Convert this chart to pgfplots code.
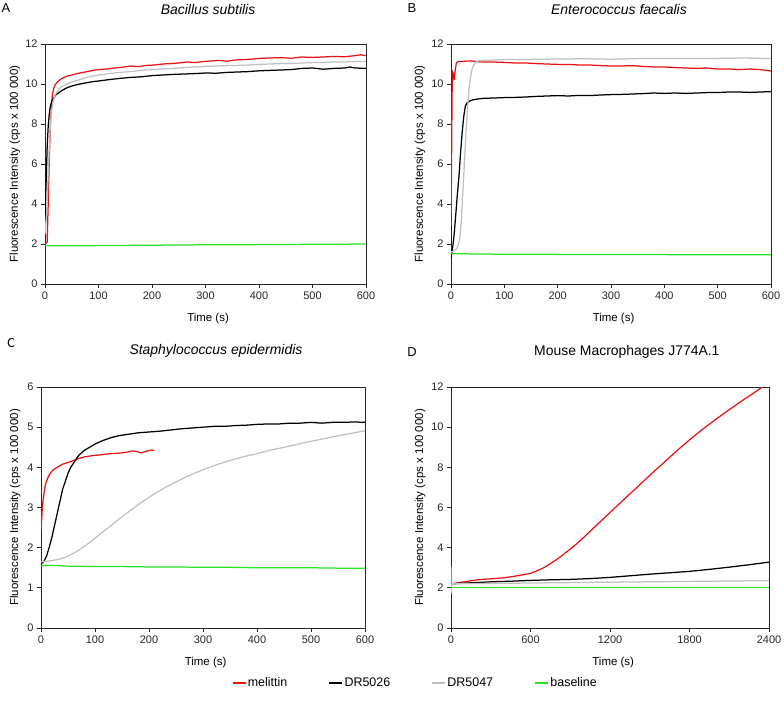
\documentclass[border=0pt]{standalone}
\usepackage{pgfplots}
\pgfplotsset{compat=1.18}
\usepackage{fontspec}
\setmainfont{Liberation Sans}
\newfontfamily\calibri{Carlito}

\definecolor{cred}{RGB}{232,20,20}
\definecolor{cblack}{RGB}{0,0,0}
\definecolor{cgray}{RGB}{192,192,192}
\definecolor{cgreen}{RGB}{40,225,40}

\pgfplotsset{
 panel/.style={
  scale only axis, anchor=south west,
  xmin=0, xmax=600, ymin=0, ymax=12,
  axis line style={black!85, line width=0.9bp},
  tick style={black!85, line width=0.8bp},
  major tick length=4bp, tick align=outside,
  xtick pos=left, ytick pos=left,
  tick label style={font=\fontsize{11}{13}\selectfont, text=black!85},
  /pgf/number format/assume math mode=true,
  /pgf/number format/1000 sep={},
  label style={font=\fontsize{11.5}{13}\selectfont},
  title style={font=\fontsize{14}{16}\selectfont\itshape, anchor=center},
  xlabel={Time (s)},
  ylabel={Fluorescence Intensity (cps x 100 000)},
  every axis plot/.append style={line width=1.25bp, no markers},
 },
}

\begin{document}
\begin{tikzpicture}
\useasboundingbox (0,0) rectangle (784bp,-704bp);

% ---------------- A ----------------
\begin{axis}[panel, at={(45bp,-284bp)}, width=321bp, height=240bp,
  title={Bacillus subtilis}, title style={at={(0.508,1.12)}},
  ylabel style={at={(axis description cs:-0.0935,0.5)}, anchor=center},
  xlabel style={at={(axis description cs:0.508,-0.142)}, anchor=center},
  ytick={0,2,...,12}, xtick={0,100,...,600}]
\addplot[cred] coordinates {(0,2.0) (2,2.05) (4,2.1) (6,4.0) (8,6.2) (10,7.9) (12,8.9) (14,9.5) (17,9.85) (20,10.0) (25,10.15) (30,10.25) (40,10.38) (50,10.45) (60,10.52) (75,10.6) (90,10.68) (100,10.72) (115,10.75) (130,10.8) (145,10.84) (160,10.9) (175,10.87) (190,10.93) (205,10.95) (220,11.0) (235,11.02) (250,11.05) (265,11.1) (280,11.07) (295,11.12) (310,11.15) (325,11.18) (340,11.14) (355,11.2) (370,11.22) (385,11.24) (400,11.28) (420,11.3) (440,11.32) (460,11.29) (480,11.35) (500,11.33) (520,11.35) (540,11.38) (560,11.36) (580,11.42) (590,11.46) (600,11.42)};
\addplot[cblack] coordinates {(0,3.2) (2,5.0) (4,6.8) (6,7.9) (8,8.5) (10,8.9) (13,9.15) (16,9.3) (20,9.45) (25,9.55) (30,9.65) (40,9.8) (50,9.9) (60,9.97) (75,10.05) (90,10.12) (100,10.15) (120,10.22) (140,10.28) (160,10.33) (180,10.36) (200,10.42) (220,10.45) (240,10.48) (260,10.5) (280,10.52) (300,10.55) (320,10.54) (340,10.58) (360,10.6) (380,10.62) (400,10.66) (420,10.68) (440,10.7) (460,10.72) (480,10.78) (500,10.8) (520,10.74) (540,10.78) (560,10.8) (570,10.85) (580,10.8) (600,10.78)};
\addplot[cgray] coordinates {(0,2.5) (3,3.5) (6,5.5) (9,7.5) (12,8.6) (15,9.1) (18,9.4) (22,9.6) (26,9.75) (30,9.85) (40,9.98) (50,10.1) (60,10.18) (75,10.3) (90,10.4) (100,10.45) (120,10.52) (140,10.58) (160,10.62) (180,10.68) (200,10.72) (220,10.75) (240,10.78) (260,10.82) (280,10.85) (300,10.88) (320,10.9) (340,10.92) (360,10.93) (380,10.95) (400,10.98) (420,11.0) (440,11.02) (460,11.02) (480,11.05) (500,11.07) (520,11.08) (540,11.1) (560,11.1) (580,11.13) (600,11.12)};
\addplot[cgreen] coordinates {(0,1.92) (50,1.91) (100,1.92) (150,1.93) (200,1.94) (250,1.95) (300,1.96) (350,1.96) (400,1.97) (450,1.97) (500,1.99) (550,1.99) (600,2.0)};
\end{axis}

% ---------------- B ----------------
\begin{axis}[panel, at={(451bp,-284bp)}, width=320bp, height=240bp,
  title={Enterococcus faecalis}, title style={at={(0.525,1.12)}},
  ylabel style={at={(axis description cs:-0.097,0.5)}, anchor=center},
  xlabel style={at={(axis description cs:0.508,-0.142)}, anchor=center},
  ytick={0,2,...,12}, xtick={0,100,...,600}]
\addplot[cred] coordinates {(0,2.9) (1,6) (2,9.5) (3,10.6) (5,10.5) (6,10.2) (8,10.7) (10,11.05) (13,11.12) (20,11.12) (30,11.15) (40,11.15) (50,11.12) (60,11.1) (80,11.1) (100,11.08) (120,11.05) (140,11.05) (160,11.02) (180,11.0) (200,10.98) (220,10.98) (240,10.95) (260,10.95) (280,10.92) (300,10.9) (320,10.9) (340,10.92) (360,10.88) (380,10.85) (400,10.85) (420,10.82) (440,10.8) (460,10.78) (480,10.8) (500,10.75) (520,10.75) (540,10.72) (560,10.75) (580,10.72) (600,10.65)};
\addplot[cblack] coordinates {(0,1.3) (3,1.8) (6,2.5) (9,3.5) (12,4.5) (15,5.4) (18,6.6) (21,7.6) (24,8.4) (27,8.9) (30,9.05) (35,9.15) (40,9.2) (50,9.25) (60,9.28) (80,9.3) (100,9.32) (120,9.33) (140,9.35) (160,9.38) (180,9.4) (200,9.42) (220,9.4) (240,9.43) (260,9.42) (280,9.45) (300,9.47) (320,9.48) (340,9.5) (360,9.52) (380,9.55) (400,9.53) (420,9.55) (440,9.53) (460,9.55) (480,9.57) (500,9.57) (520,9.6) (540,9.6) (560,9.58) (580,9.6) (600,9.62)};
\addplot[cgray] coordinates {(0,1.6) (5,1.65) (10,1.75) (13,1.9) (16,2.2) (19,3.0) (22,4.5) (25,6.0) (28,7.5) (31,8.8) (34,9.8) (37,10.4) (40,10.8) (45,11.05) (50,11.15) (60,11.18) (80,11.2) (100,11.22) (150,11.23) (200,11.25) (250,11.26) (300,11.24) (350,11.27) (400,11.27) (450,11.28) (500,11.28) (550,11.3) (600,11.27)};
\addplot[cgreen] coordinates {(0,1.52) (50,1.5) (100,1.49) (150,1.49) (200,1.48) (250,1.48) (300,1.47) (350,1.47) (400,1.47) (450,1.46) (500,1.46) (550,1.46) (600,1.46)};
\end{axis}

% ---------------- C ----------------
\begin{axis}[panel, at={(41bp,-628bp)}, width=324bp, height=241bp, ymax=6,
  title={Staphylococcus epidermidis}, title style={at={(0.54,1.124)}},
  ylabel style={at={(axis description cs:-0.080,0.5)}, anchor=center},
  xlabel style={at={(axis description cs:0.508,-0.145)}, anchor=center},
  ytick={0,1,...,6}, xtick={0,100,...,600}]
\addplot[cred] coordinates {(0,2.4) (2,2.9) (4,3.2) (6,3.4) (8,3.55) (10,3.65) (14,3.78) (18,3.87) (22,3.93) (26,3.97) (30,4.0) (35,4.04) (40,4.08) (50,4.12) (60,4.17) (70,4.22) (80,4.26) (90,4.28) (100,4.3) (110,4.31) (120,4.33) (130,4.34) (140,4.35) (150,4.36) (160,4.38) (170,4.41) (175,4.4) (180,4.38) (185,4.36) (190,4.38) (195,4.4) (200,4.42) (205,4.43) (210,4.42)};
\addplot[cblack] coordinates {(0,1.6) (5,1.65) (10,1.78) (15,2.0) (20,2.25) (25,2.55) (30,2.85) (35,3.15) (40,3.45) (45,3.65) (50,3.85) (55,4.0) (60,4.1) (70,4.3) (80,4.42) (90,4.5) (100,4.58) (115,4.67) (130,4.74) (145,4.79) (160,4.82) (180,4.86) (200,4.88) (220,4.9) (240,4.93) (260,4.96) (280,4.98) (300,5.0) (320,5.02) (340,5.02) (360,5.04) (380,5.05) (400,5.07) (420,5.08) (440,5.08) (460,5.1) (480,5.1) (500,5.12) (520,5.1) (540,5.12) (560,5.12) (580,5.13) (600,5.12)};
\addplot[cgray] coordinates {(0,1.65) (15,1.67) (30,1.7) (45,1.76) (60,1.86) (75,1.98) (90,2.13) (105,2.29) (120,2.45) (135,2.61) (150,2.77) (165,2.92) (180,3.07) (195,3.21) (210,3.34) (225,3.46) (240,3.57) (255,3.67) (270,3.77) (285,3.86) (300,3.94) (320,4.04) (340,4.13) (360,4.21) (380,4.28) (400,4.34) (420,4.41) (440,4.47) (460,4.53) (480,4.59) (500,4.65) (520,4.7) (540,4.76) (560,4.81) (580,4.86) (600,4.91)};
\addplot[cgreen] coordinates {(0,1.55) (20,1.56) (50,1.54) (100,1.53) (150,1.53) (200,1.52) (250,1.52) (300,1.51) (350,1.51) (400,1.5) (450,1.5) (500,1.5) (550,1.49) (600,1.49)};
\end{axis}

% ---------------- D ----------------
\begin{axis}[panel, at={(451bp,-628bp)}, width=318bp, height=241bp, xmax=2400,
  title={Mouse Macrophages J774A.1}, title style={at={(0.553,1.12)}, font=\fontsize{14}{16}\selectfont\upshape},
  ylabel style={at={(axis description cs:-0.097,0.5)}, anchor=center},
  xlabel style={at={(axis description cs:0.51,-0.145)}, anchor=center},
  ytick={0,2,...,12}, xtick={0,600,...,2400},
  legend columns=4,
  legend style={at={(axis description cs:-0.689,-0.228)}, anchor=west, draw=none, fill=none,
    font=\fontsize{12.5}{14}\selectfont, inner xsep=0pt,
    /tikz/every even column/.append style={column sep=40bp},
    nodes={inner xsep=1.5bp}},
  legend image code/.code={\draw[#1] (0bp,0bp) -- (13bp,0bp);}]
\addplot[cred] coordinates {(0,2.2) (100,2.3) (200,2.4) (300,2.45) (400,2.5) (500,2.6) (600,2.72) (650,2.85) (700,3.0) (750,3.2) (800,3.42) (850,3.67) (900,3.93) (950,4.2) (1000,4.5) (1100,5.13) (1200,5.75) (1300,6.37) (1400,6.98) (1500,7.6) (1600,8.2) (1700,8.8) (1800,9.37) (1900,9.9) (2000,10.4) (2100,10.87) (2200,11.33) (2300,11.77) (2350,12.0) (2390,12.15)};
\addlegendentry{melittin}
\addplot[cblack] coordinates {(0,2.2) (150,2.25) (300,2.3) (450,2.33) (600,2.37) (750,2.4) (900,2.42) (1050,2.46) (1200,2.52) (1350,2.6) (1500,2.68) (1650,2.75) (1800,2.82) (1950,2.92) (2100,3.03) (2250,3.15) (2400,3.28)};
\addlegendentry{DR5026}
\addplot[cgray] coordinates {(0,3.05) (0,1.7) (5,2.2) (300,2.22) (600,2.24) (900,2.26) (1200,2.28) (1500,2.3) (1800,2.32) (2100,2.34) (2400,2.36)};
\addlegendentry{DR5047}
\addplot[cgreen] coordinates {(0,2.0) (600,2.0) (1200,2.0) (1800,2.0) (2400,2.0)};
\addlegendentry{baseline}
\end{axis}

% panel letters
\node[font=\fontsize{13}{15}\selectfont] at (6bp,-8bp) {A};
\node[font=\fontsize{13}{15}\selectfont] at (412bp,-8bp) {B};
\node[font=\calibri\fontsize{14}{16}\selectfont] at (11bp,-343bp) {C};
\node[font=\fontsize{13}{15}\selectfont] at (412bp,-352bp) {D};
\end{tikzpicture}
\end{document}
